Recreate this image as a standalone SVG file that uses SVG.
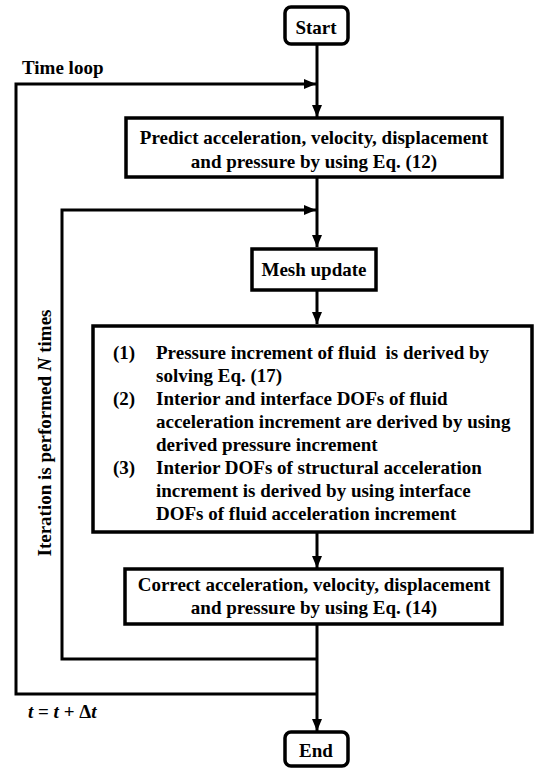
<svg xmlns="http://www.w3.org/2000/svg" width="536" height="769" viewBox="0 0 536 769">
<style>
text{font-family:"Liberation Serif","Times New Roman",serif;font-weight:bold;font-size:19px;fill:#000}
.c{text-anchor:middle}
.box{fill:#fff;stroke:#000;stroke-width:3.5}
.ln{fill:none;stroke:#000;stroke-width:3}
</style>
<defs>
<marker id="ah" markerUnits="userSpaceOnUse" markerWidth="12" markerHeight="10" refX="12" refY="5" orient="auto">
<path d="M0,0 L12,5 L0,10 Z" fill="#000"/>
</marker>
</defs>
<rect width="536" height="769" fill="#fff"/>
<g id="connectors">
<line class="ln" x1="317" y1="44" x2="317" y2="117" marker-end="url(#ah)"/>
<path class="ln" d="M317,694 L16,694 L16,84 L316,84" marker-end="url(#ah)"/>
<line class="ln" x1="317" y1="177" x2="317" y2="247" marker-end="url(#ah)"/>
<path class="ln" d="M317,659 L62,659 L62,210 L316,210" marker-end="url(#ah)"/>
<line class="ln" x1="317" y1="290" x2="317" y2="324" marker-end="url(#ah)"/>
<line class="ln" x1="317" y1="532" x2="317" y2="568" marker-end="url(#ah)"/>
<line class="ln" x1="317" y1="623" x2="317" y2="731" marker-end="url(#ah)"/>
</g>
<g id="labels">
<text x="22" y="74">Time loop</text>
<text class="c" transform="translate(51,433) rotate(-90)">Iteration is performed <tspan font-style="italic">N</tspan> times</text>
<text x="28" y="718"><tspan font-style="italic">t</tspan> = <tspan font-style="italic">t</tspan> + Δ<tspan font-style="italic">t</tspan></text>
</g>
<g id="start">
<rect class="box" x="285" y="7" width="63" height="37" rx="6"/>
<text class="c" x="316" y="34">Start</text>
</g>
<g id="predict">
<rect class="box" x="126" y="118" width="376" height="59"/>
<text class="c" x="314" y="144">Predict acceleration, velocity, displacement</text>
<text class="c" x="314" y="168">and pressure by using Eq. (12)</text>
</g>
<g id="mesh">
<rect class="box" x="252" y="249" width="124" height="41"/>
<text class="c" x="314" y="276">Mesh update</text>
</g>
<g id="solve">
<rect class="box" x="93" y="326" width="439" height="206"/>
<text x="113" y="359">(1)</text>
<text x="156" y="359" xml:space="preserve">Pressure increment of fluid  is derived by</text>
<text x="156" y="382">solving Eq. (17)</text>
<text x="113" y="405">(2)</text>
<text x="156" y="405">Interior and interface DOFs of fluid</text>
<text x="156" y="428">acceleration increment are derived by using</text>
<text x="156" y="451">derived pressure increment</text>
<text x="113" y="474">(3)</text>
<text x="156" y="474">Interior DOFs of structural acceleration</text>
<text x="156" y="497">increment is derived by using interface</text>
<text x="156" y="520">DOFs of fluid acceleration increment</text>
</g>
<g id="correct">
<rect class="box" x="125" y="569" width="377" height="55"/>
<text class="c" x="314" y="591">Correct acceleration, velocity, displacement</text>
<text class="c" x="314" y="614">and pressure by using Eq. (14)</text>
</g>
<g id="end">
<rect class="box" x="285" y="732" width="63" height="34" rx="6"/>
<text class="c" x="316" y="757">End</text>
</g>
</svg>
